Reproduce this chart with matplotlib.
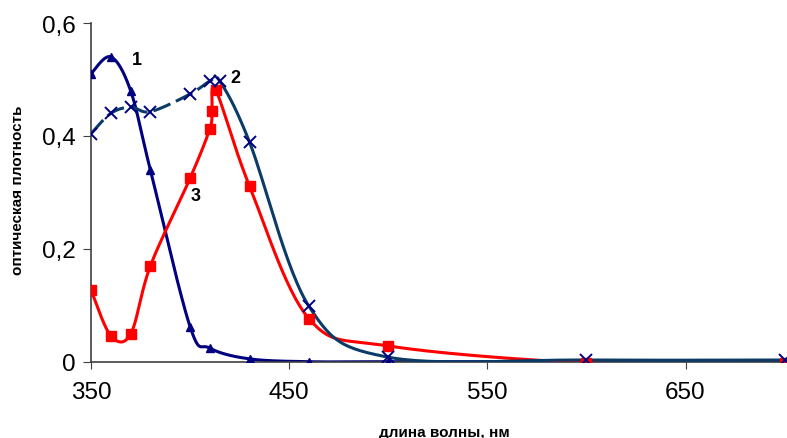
import matplotlib
matplotlib.use("Agg")
import matplotlib.pyplot as plt
import numpy as np

plt.rcParams['font.family'] = ['Liberation Sans', 'DejaVu Sans']

# curve 1 (navy, triangles)
wl_1 = [350, 360, 370, 380, 400, 410, 430, 460, 500, 600, 700]
od_1 = [0.51, 0.54, 0.48, 0.339, 0.062, 0.024, 0.005, 0.0, 0.0, 0.0, 0.0]

# curve 2 (dark teal line, navy crosses)
wl_2 = [350, 360, 370, 380, 400, 410, 415, 430, 460, 500, 600, 700]
od_2 = [0.404, 0.44, 0.451, 0.443, 0.474, 0.497, 0.497, 0.389, 0.098, 0.008, 0.003, 0.003]

# curve 3 (red, squares)
wl_3 = [350, 360, 370, 380, 400, 410, 411, 413, 430, 460, 500, 600, 700]
od_3 = [0.127, 0.046, 0.049, 0.17, 0.325, 0.413, 0.444, 0.481, 0.311, 0.076, 0.028, -0.002, -0.003]

x_ticks = [350, 450, 550, 650]
y_ticks = [0, 0.2, 0.4, 0.6]
y_ticklabels = ["0", "0,2", "0,4", "0,6"]


def smooth(x, y, n=30):
    # catmull-rom like the excel "smoothed line" option
    p = np.column_stack([x, y]).astype(float)
    p = np.vstack([p[0], p, p[-1]])
    out = []
    for i in range(1, len(p) - 2):
        p0, p1, p2, p3 = p[i - 1], p[i], p[i + 1], p[i + 2]
        c1 = p1 + (p2 - p0) / 6
        c2 = p2 - (p3 - p1) / 6
        t = np.linspace(0, 1, n)[:, None]
        seg = ((1 - t) ** 3) * p1 + 3 * ((1 - t) ** 2) * t * c1 + 3 * (1 - t) * t ** 2 * c2 + t ** 3 * p2
        out.append(seg)
    out = np.vstack(out)
    return out[:, 0], out[:, 1]


fig = plt.figure(figsize=(7.87, 4.39), dpi=100)
ax = fig.add_axes([91 / 787, 76.3 / 439, 696 / 787, 338.7 / 439])

navy = "#000080"
teal = "#0b3b66"
red = "#ff0000"

sx, sy = smooth(wl_1, od_1)
ax.plot(sx, sy, color=navy, lw=2.2, zorder=2)
sx, sy = smooth(wl_3, od_3)
ax.plot(sx, sy, color=red, lw=2.2, zorder=3)
sx, sy = smooth(wl_2, od_2)
left = sx <= 415
ax.plot(sx[left], sy[left], color=teal, lw=2.2, dashes=(6, 2), zorder=4)
ax.plot(sx[~left], sy[~left], color=teal, lw=2.2, zorder=4)

ax.plot(wl_1, od_1, ls="none", marker="^", ms=5.5, color=navy, zorder=5)
ax.plot(wl_3, od_3, ls="none", marker="s", ms=6.5, color=red, zorder=5)
ax.plot(wl_2, od_2, ls="none", marker="x", ms=8.5, mew=1.4, color=navy, zorder=6)

# curve numbers
ax.text(373, 0.536, "1", fontsize=13, fontweight="bold", ha="center", va="center")
ax.text(422.7, 0.504, "2", fontsize=13, fontweight="bold", ha="center", va="center")
ax.text(402.8, 0.295, "3", fontsize=13, fontweight="bold", ha="center", va="center")

ax.set_xlim(350, 701.2)
ax.set_ylim(0, 0.6)
ax.set_xticks(x_ticks)
ax.set_yticks(y_ticks)
ax.set_yticklabels(y_ticklabels)
ax.tick_params(axis="both", labelsize=17.5, direction="out", color="#404040")
ax.tick_params(axis="y", length=6, pad=5)
ax.tick_params(axis="x", length=5, pad=9)

for s in ["top", "right"]:
    ax.spines[s].set_visible(False)
for s in ["left", "bottom"]:
    ax.spines[s].set_color("#404040")
    ax.spines[s].set_linewidth(1.2)

fig.text(444 / 787, 1 - 432.7 / 439, "длина волны, нм", fontsize=11, fontweight="bold",
         ha="center", va="center")
fig.text(18 / 787, 1 - 190 / 439, "оптическая плотность", fontsize=11, fontweight="bold",
         ha="center", va="center", rotation=90)

fig.savefig("out.png", dpi=100)
